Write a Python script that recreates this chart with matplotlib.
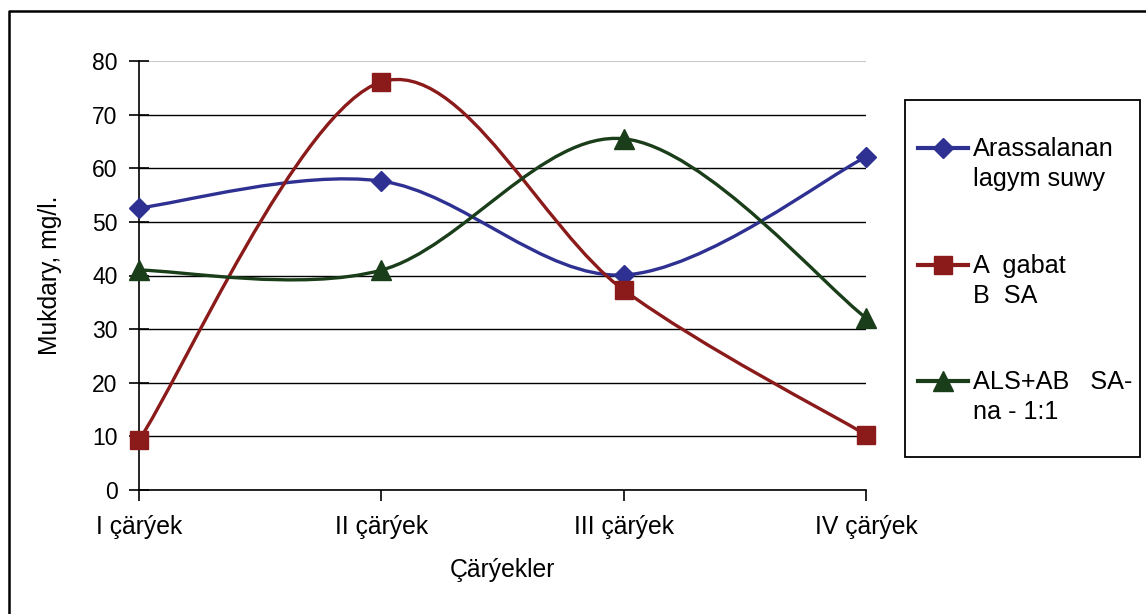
import matplotlib.pyplot as plt
from matplotlib.path import Path
from matplotlib.patches import PathPatch, Rectangle
from matplotlib.lines import Line2D

plt.rcParams['font.family'] = ['Liberation Sans', 'DejaVu Sans']

quarters = ["I çärýek", "II çärýek", "III çärýek", "IV çärýek"]
arassalanan = [52.6, 57.6, 40.1, 62.1]
a_gabat = [9.3, 76.1, 37.3, 10.3]
als_ab = [41.0, 41.0, 65.5, 32.1]

series = [
    ("Arassalanan\nlagym suwy", arassalanan, "#2E3192", "D", 10),
    ("A  gabat\nB  SA", a_gabat, "#8B1A1A", "s", 13),
    ("ALS+AB   SA-\nna - 1:1", als_ab, "#1A3D1A", "^", 14),
]

W, H = 1146, 614
FS = 16.5
FS_TXT = 17.8


def smooth_path(xs, ys):
    # excel style smoothed line, one cubic bezier per segment
    pts = list(zip(xs, ys))
    ext = [pts[0]] + pts + [pts[-1]]
    verts = [pts[0]]
    codes = [Path.MOVETO]
    for i in range(len(pts) - 1):
        p0, p1, p2, p3 = ext[i], ext[i + 1], ext[i + 2], ext[i + 3]
        c1 = (p1[0] + (p2[0] - p0[0]) / 6, p1[1] + (p2[1] - p0[1]) / 6)
        c2 = (p2[0] - (p3[0] - p1[0]) / 6, p2[1] - (p3[1] - p1[1]) / 6)
        verts += [c1, c2, p2]
        codes += [Path.CURVE4] * 3
    return Path(verts, codes)


fig = plt.figure(figsize=(W / 100, H / 100), dpi=100)
ax = fig.add_axes([139 / W, 1 - 490 / H, (866 - 139) / W, (490 - 61) / H])

x = list(range(len(quarters)))
for label, vals, color, marker, ms in series:
    ax.add_patch(PathPatch(smooth_path(x, vals), fill=False, edgecolor=color,
                           lw=2.4, zorder=3, clip_on=False))
    ax.plot(x, vals, linestyle='none', marker=marker, ms=ms, color=color,
            zorder=4, clip_on=False)

ax.set_xlim(0, 3)
ax.set_ylim(0, 80)
ax.set_xticks(x)
ax.set_xticklabels(quarters)
ax.set_yticks(range(0, 81, 10))
for s in ['top', 'right']:
    ax.spines[s].set_visible(False)
for s in ['left', 'bottom']:
    ax.spines[s].set_color('black')
    ax.spines[s].set_linewidth(1.2)
ax.yaxis.grid(True, color='black', lw=1)
ax.get_ygridlines()[-1].set_color('#C8C8C8')
ax.get_ygridlines()[-1].set_linewidth(1.5)
ax.set_axisbelow(True)
ax.tick_params(axis='y', direction='inout', length=15, width=1.2, pad=8, labelsize=FS)
ax.tick_params(axis='x', direction='out', length=8, width=1.2, pad=10, labelsize=FS_TXT)

fig.text(502 / W, 1 - 570 / H, "Çärýekler", ha='center', va='center', fontsize=FS_TXT)
fig.text(50 / W, 1 - 275 / H, "Mukdary, mg/l.", ha='center', va='center',
         rotation=90, fontsize=FS_TXT)

# legend box
fig.patches.append(Rectangle((905 / W, 1 - 457 / H), 235 / W, 357 / H,
                             transform=fig.transFigure, fill=False,
                             edgecolor='black', lw=1.3))
rows = [148, 265, 381]
for (label, vals, color, marker, ms), yy in zip(series, rows):
    fy = 1 - yy / H
    fig.add_artist(Line2D([918 / W, 968 / W], [fy, fy], color=color, lw=3,
                          transform=fig.transFigure))
    fig.add_artist(Line2D([943 / W], [fy], marker=marker, ms=ms, color=color,
                          transform=fig.transFigure))
    fig.text(973 / W, 1 - (yy + 16) / H, label, ha='left', va='center',
             fontsize=18.2, linespacing=1.28)

# outer frame
fig.add_artist(Line2D([8.5 / W, 8.5 / W, 1.0], [0.0, 1 - 10.5 / H, 1 - 10.5 / H],
                      color='black', lw=1.8, transform=fig.transFigure))

fig.savefig("out.png", dpi=100)
